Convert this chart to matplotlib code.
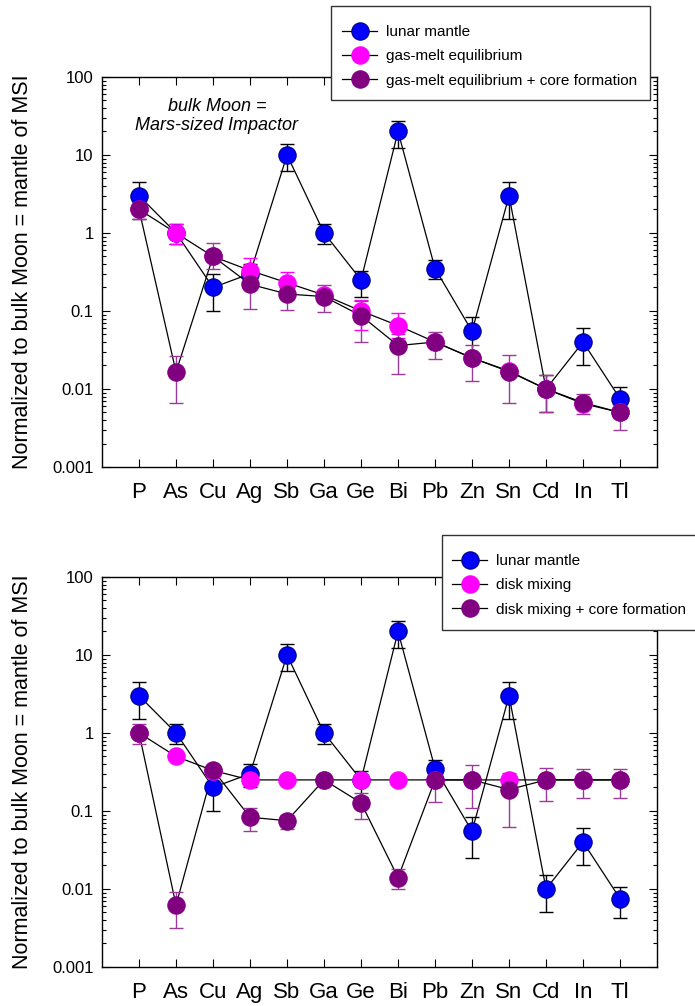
import numpy as np
import matplotlib
matplotlib.use("Agg")
import matplotlib.pyplot as plt
from matplotlib.lines import Line2D
from matplotlib.patches import Rectangle
from matplotlib.ticker import LogLocator, NullFormatter, FixedLocator

plt.rcParams['font.family'] = ['Liberation Sans', 'DejaVu Sans']

elements = ["P", "As", "Cu", "Ag", "Sb", "Ga", "Ge", "Bi", "Pb", "Zn", "Sn", "Cd", "In", "Tl"]
nan = np.nan

# lunar mantle (same in both panels)
mantle = [3.0, 1.0, 0.2, 0.3, 10, 1.0, 0.25, 20, 0.35, 0.055, 3.0, 0.01, 0.04, 0.0075]
mantle_lo = [1.5, 0.72, 0.1, 0.2, 6.3, 0.72, 0.15, 12.3, 0.26, 0.025, 1.5, 0.005, 0.02, 0.0043]
mantle_hi = [4.5, 1.3, 0.3, 0.4, 14, 1.3, 0.33, 27.5, 0.45, 0.083, 4.5, 0.015, 0.06, 0.0105]

# top panel: gas-melt equilibrium
gas = [2.0, 1.0, 0.5, 0.33, 0.23, 0.16, 0.10, 0.065, 0.04, 0.025, 0.017, 0.01, 0.0065, 0.005]
gas_lo = [nan, 0.72, nan, 0.23, 0.16, nan, 0.057, 0.045, nan, nan, nan, nan, nan, nan]
gas_hi = [nan, 1.3, nan, 0.48, 0.32, nan, 0.14, 0.093, nan, nan, nan, nan, nan, nan]

# top panel: gas-melt equilibrium + core formation
gas_core = [2.0, 0.0165, 0.5, 0.22, 0.165, 0.153, 0.087, 0.036, 0.040, 0.025, 0.0167, 0.01, 0.0067, 0.005]
gas_core_lo = [1.5, 0.0066, 0.35, 0.106, 0.103, 0.096, 0.04, 0.0155, 0.024, 0.0128, 0.0066, 0.005, 0.0048, 0.003]
gas_core_hi = [2.5, 0.0267, 0.75, 0.345, 0.23, 0.215, 0.135, 0.05, 0.054, 0.037, 0.027, 0.0149, 0.0085, 0.0065]

# bottom panel: disk mixing
disk = [1.0, 0.5, 0.33, 0.25, 0.25, 0.25, 0.25, 0.25, 0.25, 0.25, 0.25, 0.25, 0.25, 0.25]
disk_lo = [nan] * 14
disk_hi = [nan] * 14

# bottom panel: disk mixing + core formation
disk_core = [1.0, 0.0062, 0.336, 0.083, 0.075, 0.25, 0.127, 0.014, 0.25, 0.25, 0.188, 0.25, 0.25, 0.25]
disk_core_lo = [0.72, 0.0032, nan, 0.055, 0.058, nan, 0.079, 0.01, 0.13, 0.11, 0.062, 0.136, 0.145, 0.145]
disk_core_hi = [1.3, 0.0091, nan, 0.11, 0.09, nan, 0.17, 0.018, 0.36, 0.39, 0.31, 0.36, 0.34, 0.34]

BLUE = "#0000ff"
PINK = "#ff00ff"
PURPLE = "#800080"
ERR_PURPLE = "#9a3a9a"
MS = 12.5

W, H = 695, 1006
x = np.arange(len(elements))


def draw_series(ax, y, lo, hi, face, ecol, z):
    y = np.array(y, dtype=float)
    lo = np.array(lo, dtype=float)
    hi = np.array(hi, dtype=float)
    ax.plot(x, y, color="black", lw=0.9, zorder=1)
    ax.errorbar(x, y, yerr=[y - lo, hi - y], fmt="none", ecolor=ecol,
                elinewidth=1.0, capsize=5, capthick=1.0, zorder=2)
    ax.plot(x, y, "o", ms=MS, mfc=face, mec=face if face != BLUE else "#000080",
            mew=0.8, ls="none", zorder=z)


def style_axis(ax):
    ax.set_yscale("log")
    ax.set_ylim(0.001, 100)
    ax.set_xlim(-1, 14)
    ax.xaxis.set_major_locator(FixedLocator(x))
    ax.set_xticklabels(elements, fontsize=16)
    ax.yaxis.set_minor_locator(LogLocator(base=10, subs=np.arange(2, 10), numticks=20))
    ax.yaxis.set_minor_formatter(NullFormatter())
    ax.set_yticks([0.001, 0.01, 0.1, 1, 10, 100])
    ax.set_yticklabels(["0.001", "0.01", "0.1", "1", "10", "100"], fontsize=12)
    ax.tick_params(which="both", direction="in", top=True, right=True, width=0.8)
    ax.tick_params(which="major", length=6)
    ax.tick_params(which="minor", length=3)
    ax.tick_params(axis="x", pad=11)
    ax.tick_params(axis="y", pad=6)
    for s in ax.spines.values():
        s.set_linewidth(1.0)
    ax.set_ylabel("Normalized to bulk Moon = mantle of MSI", fontsize=15.5, labelpad=14)


def make_legend(fig, labels, box, hx, row_top):
    # box: (left, top, right, bottom) in pixels
    l, t, r, b = box
    fig.add_artist(Rectangle((l / W, 1 - b / H), (r - l) / W, (b - t) / H,
                             transform=fig.transFigure, fill=True, fc="white",
                             ec="#333333", lw=1.0, zorder=9))
    handles = [Line2D([0], [0], color="black", lw=0.9, marker="o", ms=MS,
                      mfc=c, mec=c if c != BLUE else "#000080", mew=0.8)
               for c in (BLUE, PINK, PURPLE)]
    leg = fig.legend(handles, labels, loc="upper left", bbox_to_anchor=(hx / W, 1 - row_top / H),
                     bbox_transform=fig.transFigure, fontsize=11, frameon=False,
                     borderaxespad=0, borderpad=0, handlelength=2.3, handletextpad=0.6,
                     labelspacing=0.68)
    leg.set_zorder(10)
    return leg


fig = plt.figure(figsize=(6.95, 10.06), dpi=100)
ax1 = fig.add_axes([0.1468, 0.5358, 0.7986, 0.3877])
ax2 = fig.add_axes([0.1468, 0.0388, 0.7986, 0.3877])

draw_series(ax1, mantle, mantle_lo, mantle_hi, BLUE, "black", 3)
draw_series(ax1, gas, gas_lo, gas_hi, PINK, PINK, 4)
draw_series(ax1, gas_core, gas_core_lo, gas_core_hi, PURPLE, ERR_PURPLE, 5)
style_axis(ax1)
ax1.text(0.207, 0.9, "bulk Moon =\nMars-sized Impactor", transform=ax1.transAxes,
         ha="center", va="center", fontsize=13, style="italic", linespacing=1.2)
make_legend(fig, ["lunar mantle", "gas-melt equilibrium",
                  "gas-melt equilibrium + core formation"],
            (331, 6, 650, 100), 342, 25)

draw_series(ax2, mantle, mantle_lo, mantle_hi, BLUE, "black", 3)
draw_series(ax2, disk, disk_lo, disk_hi, PINK, PINK, 4)
draw_series(ax2, disk_core, disk_core_lo, disk_core_hi, PURPLE, ERR_PURPLE, 5)
style_axis(ax2)
make_legend(fig, ["lunar mantle", "disk mixing", "disk mixing + core formation"],
            (442, 535, 700, 630), 452, 554)

fig.savefig("out.png", dpi=100)
